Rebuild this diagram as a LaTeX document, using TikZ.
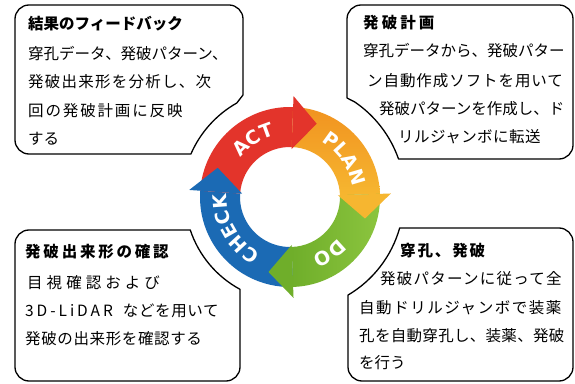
\documentclass[tikz,border=0pt]{standalone}
\usepackage{fontspec}
\setmainfont{Noto Sans CJK JP}
\newfontfamily\ringfont{DejaVu Sans}
\usetikzlibrary{decorations.text}
\definecolor{actred}{HTML}{E3342B}
\definecolor{planA}{HTML}{F19320}
\definecolor{planB}{HTML}{F6B630}
\definecolor{doA}{HTML}{6FAE2A}
\definecolor{doB}{HTML}{8CC53F}
\definecolor{chkblue}{HTML}{1B6AB4}
\newcommand\lsp[2]{{\addfontfeature{LetterSpace=#1}#2}}
\begin{document}
\begin{tikzpicture}[x=1pt,y=1pt,
  box/.style={draw=black, line width=1.3pt, fill=white, line join=round},
  txt/.style={anchor=base west, inner sep=0pt, font=\fontsize{15.5}{18}\selectfont},
  ttl/.style={anchor=base west, inner sep=0pt, font=\fontsize{15.5}{18}\selectfont\bfseries},
  ringtext/.style={decorate, decoration={text along path, text align=center, text color=white,
     text={|\ringfont\bfseries\fontsize{19}{19}\selectfont|#1}}}
]
\fill[white] (0,0) rectangle (575,383);
\useasboundingbox (0,0) rectangle (575,383);

% ---- callout boxes ----
\draw[box] (191,229) -- (29,229) arc[start angle=270,end angle=180,radius=14pt]
  -- (15,364) arc[start angle=180,end angle=90,radius=14pt]
  -- (229,378) arc[start angle=90,end angle=0,radius=14pt]
  -- (243,288) -- (236.8,280) arc[start angle=119.5,end angle=156.5,radius=108pt] -- cycle;

\draw[box] (398.5,224) -- (559,224) arc[start angle=270,end angle=360,radius=14pt]
  -- (573,364) arc[start angle=0,end angle=90,radius=14pt]
  -- (361,378) arc[start angle=90,end angle=180,radius=14pt]
  -- (347,285) -- (354.8,281) arc[start angle=55.7,end angle=19.3,radius=115pt] -- cycle;

\draw[box] (190.3,153) -- (29,153) arc[start angle=90,end angle=180,radius=14pt]
  -- (15,16) arc[start angle=180,end angle=270,radius=14pt]
  -- (226,2) arc[start angle=270,end angle=360,radius=14pt]
  -- (240,93.7) arc[start angle=241.6,end angle=198.3,radius=105pt] -- cycle;

\draw[box] (399.7,155) -- (559,155) arc[start angle=90,end angle=0,radius=14pt]
  -- (573,16) arc[start angle=0,end angle=-90,radius=14pt]
  -- (362,2) arc[start angle=270,end angle=180,radius=14pt]
  -- (348,87.9) arc[start angle=-59.4,end angle=-15.8,radius=114pt] -- cycle;

% ---- texts ----
\node[ttl] (tl1) at (28,353) {結果のフィードバック};
\node[txt] (tl2) at (28,323) {穿孔データ、発破パターン、};
\node[txt] (tl3) at (28,295) {\lsp{8}{発破出来形を分析し、次}};
\node[txt] (tl4) at (28,266) {\lsp{12}{回の発破計画に反映}};
\node[txt] (tl5) at (28,238) {する};

\node[ttl] (tr1) at (363,354) {\lsp{20}{発破計画}};
\node[txt] (tr2) at (363,326) {穿孔データから、発破パター};
\node[txt] (tr3) at (367,296) {\lsp{6}{ン自動作成ソフトを用いて}};
\node[txt] (tr4) at (379,268) {発破パターンを作成し、ド};
\node[txt] (tr5) at (398,240) {\lsp{3}{リルジャンボに転送}};

\node[ttl] (bl1) at (25,125) {\lsp{18}{発破出来形の確認}};
\node[txt] (bl2) at (27,95) {\lsp{26}{目視確認および}};
\node[txt] (bl3) at (25,67) {\lsp{19}{3D-LiDAR}\hspace{10pt}\lsp{4}{などを用いて}};
\node[txt] (bl4) at (25,39) {\lsp{4}{発破の出来形を確認する}};

\node[ttl] (br1) at (400,127) {\lsp{12}{穿孔、発破}};
\node[txt] (br2) at (380,99) {\lsp{8}{発破パターンに従って全}};
\node[txt] (br3) at (359,70) {\lsp{10}{自動ドリルジャンボで装薬}};
\node[txt] (br4) at (359,42) {\lsp{2}{孔を自動穿孔し、装薬、発破}};
\node[txt] (br5) at (359,15) {を行う};

% ---- PDCA ring ----
\begin{scope}[shift={(290,186)}]
  % bodies
  \fill[chkblue] (272:90pt) arc[start angle=272,end angle=176,radius=90pt]
     -- (176:50pt) arc[start angle=176,end angle=272,radius=50pt] -- cycle;
  \fill[actred] (176:90pt) arc[start angle=176,end angle=88,radius=90pt]
     -- (88:50pt) arc[start angle=88,end angle=176,radius=50pt] -- cycle;
  \shade[top color=planA, bottom color=planB] (88:90pt) arc[start angle=88,end angle=2,radius=90pt]
     -- (2:50pt) arc[start angle=2,end angle=88,radius=50pt] -- cycle;
  \shade[left color=doA, right color=doB] (2:90pt) arc[start angle=2,end angle=-88,radius=90pt]
     -- (-88:50pt) arc[start angle=-88,end angle=2,radius=50pt] -- cycle;
  % heads
  \fill[actred] (88:101pt) -- (70:78pt) -- (88:48pt) -- cycle;
  \fill[planB] (2:101pt) -- (-16:78pt) -- (2:48pt) -- cycle;
  \fill[doA] (-88:101pt) -- (-106:78pt) -- (-88:48pt) -- cycle;
  \fill[chkblue] (176:101pt) -- (158:78pt) -- (176:48pt) -- cycle;
  % labels
  \path[ringtext=ACT] (168:63pt) arc[start angle=168,end angle=78,radius=63pt];
  \path[ringtext=PLAN] (80:63pt) arc[start angle=80,end angle=-10,radius=63pt];
  \path[ringtext=DO] (-10:63pt) arc[start angle=-10,end angle=-100,radius=63pt];
  \path[ringtext=CHECK] (255:63pt) arc[start angle=255,end angle=165,radius=63pt];
\end{scope}
\end{tikzpicture}
\end{document}
